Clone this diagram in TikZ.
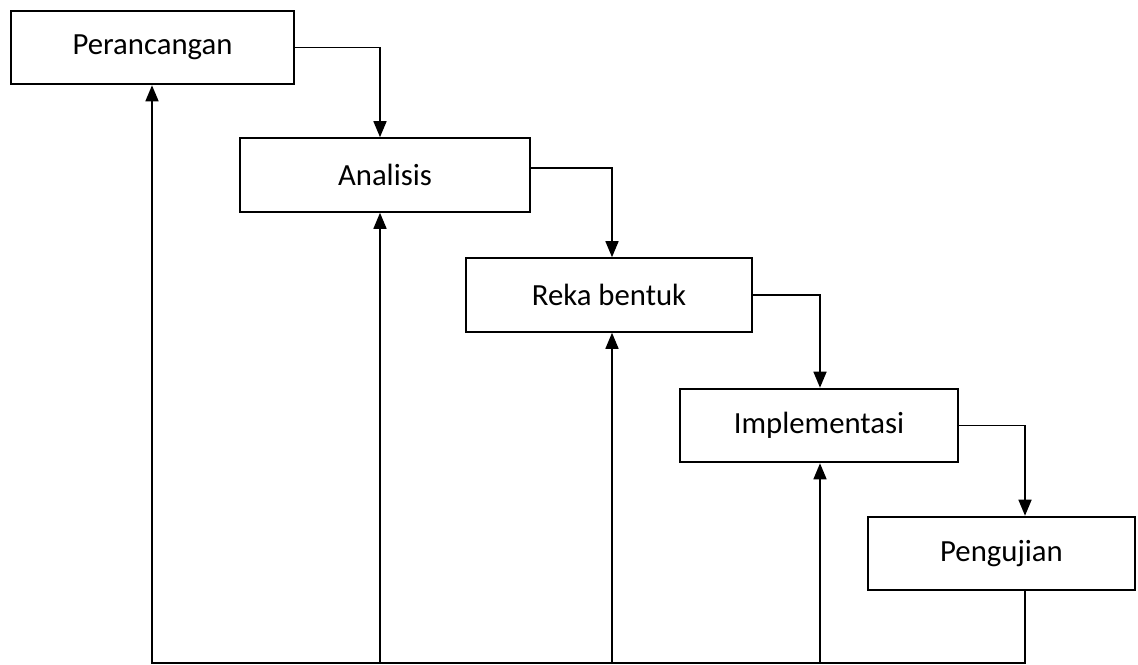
\documentclass[tikz,border=0pt]{standalone}
\usepackage{fontspec}
\setmainfont{Carlito}
\usetikzlibrary{arrows.meta}
\tikzset{
  stage/.style={draw, line width=1.2pt, rectangle, minimum width=#1*0.02cm, minimum height=1.47cm, inner sep=0pt, font=\fontsize{17.5}{20}\selectfont},
  flow/.style={line width=0.9pt, -{Triangle[length=0.32cm, width=0.26cm]}}
}
\begin{document}
\begin{tikzpicture}[x=0.02cm, y=-0.02cm]
            \useasboundingbox (0,0) rectangle (1138,665);
            \node[stage=283] (per) at (152.5,47.5) {Perancangan};
            \node[stage=290] (ana) at (385,175) {Analisis};
            \node[stage=286] (reka) at (609,295) {Reka bentuk};
            \node[stage=278] (impl) at (819,425.5) {Implementasi};
            \node[stage=267] (peng) at (1001.5,553.5) {Pengujian};
            % columns and base line of the loop back
            \coordinate (c1) at (152,0);
            \coordinate (c2) at (380,0);
            \coordinate (c3) at (612,0);
            \coordinate (c4) at (820,0);
            \coordinate (c5) at (1025,0);
            \coordinate (base) at (0,663);
            \draw[flow] (per.east) -| (c2 |- ana.north);
            \draw[flow] ([yshift=0.14cm]ana.east) -| (c3 |- reka.north);
            \draw[flow] (reka.east) -| (c4 |- impl.north);
            \draw[flow] (impl.east) -| (c5 |- peng.north);
            \draw[flow] (c5 |- peng.south) |- (c1 |- base) -- (c1 |- per.south);
            \draw[flow] (c2 |- base) -- (c2 |- ana.south);
            \draw[flow] (c3 |- base) -- (c3 |- reka.south);
            \draw[flow] (c4 |- base) -- (c4 |- impl.south);
        \end{tikzpicture}
\end{document}
